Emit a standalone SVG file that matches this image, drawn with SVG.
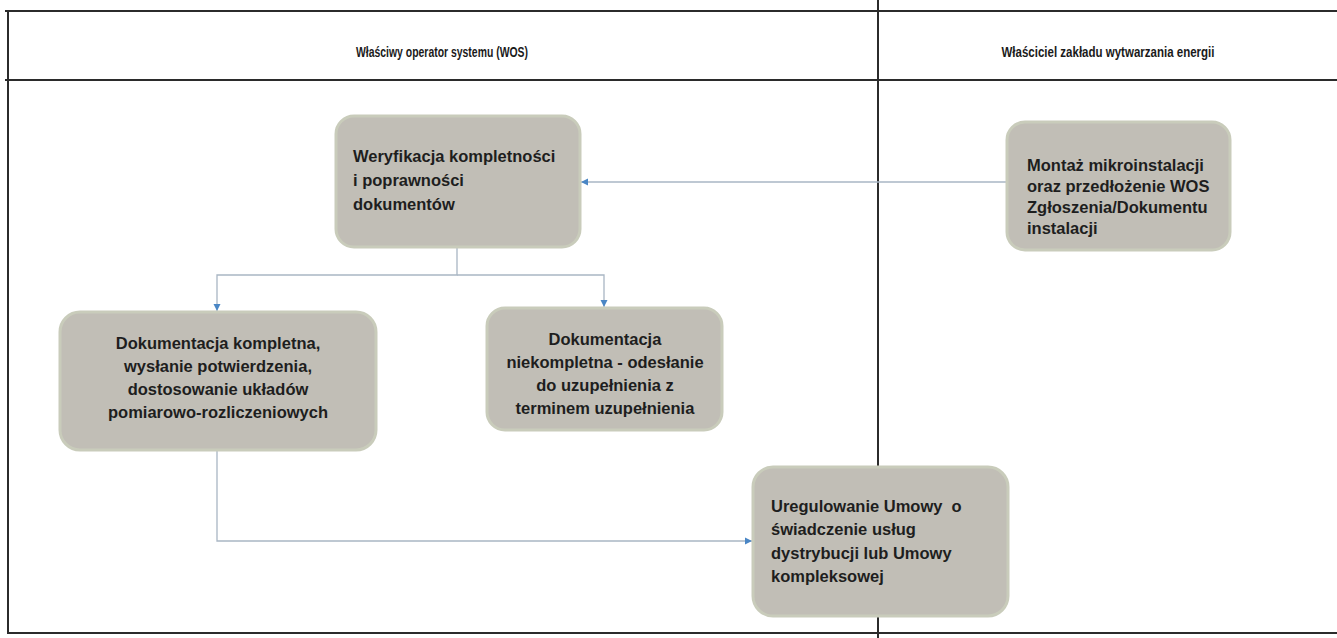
<svg xmlns="http://www.w3.org/2000/svg" width="1337" height="638" viewBox="0 0 1337 638">
<style>
.grid{stroke:#2b2b2b;stroke-width:2;fill:none}
.hdr{font-family:"Liberation Sans",Arial,sans-serif;font-weight:bold;font-size:15px;fill:#1a1a1a}
.box{fill:#c1beb6;stroke:#c9ccbb;stroke-width:3}
.txt{font-family:"Liberation Sans",Arial,sans-serif;font-weight:bold;font-size:16.5px;fill:#1e1e1e}
.c{text-anchor:middle}
.conn{stroke:#a9b6c4;stroke-width:1.3;fill:none}
</style>
<defs>
<marker id="ah" markerWidth="8" markerHeight="8" refX="7" refY="4" orient="auto" markerUnits="userSpaceOnUse">
<path d="M0,0.5 L7,4 L0,7.5 Z" fill="#4a86c5"/>
</marker>
</defs>
<rect width="1337" height="638" fill="#ffffff"/>
<g id="table">
<line class="grid" x1="5" y1="11" x2="1337" y2="11"/>
<line class="grid" x1="5" y1="80" x2="1337" y2="80"/>
<line class="grid" x1="8" y1="11" x2="8" y2="633"/>
<line class="grid" x1="7" y1="633" x2="1337" y2="633"/>
<line class="grid" x1="878" y1="0" x2="878" y2="638"/>
<text class="hdr c" x="442" y="57" textLength="172" lengthAdjust="spacingAndGlyphs">Właściwy operator systemu (WOS)</text>
<text class="hdr c" x="1108" y="57" textLength="213" lengthAdjust="spacingAndGlyphs">Właściciel zakładu wytwarzania energii</text>
</g>
<g id="connectors">
<line class="conn" x1="1007" y1="182" x2="581" y2="182" marker-end="url(#ah)"/>
<polyline class="conn" points="457,247 457,275 217,275 217,311" marker-end="url(#ah)"/>
<polyline class="conn" points="457,275 604,275 604,307" marker-end="url(#ah)"/>
<polyline class="conn" points="217,450 217,541 752,541" marker-end="url(#ah)"/>
</g>
<g id="n1">
<rect class="box" x="336" y="116" width="244" height="131" rx="18"/>
<text class="txt" x="353" y="162">Weryfikacja kompletności</text>
<text class="txt" x="353" y="186">i poprawności</text>
<text class="txt" x="353" y="210">dokumentów</text>
</g>
<g id="n2">
<rect class="box" x="1007" y="122" width="223" height="128" rx="18"/>
<text class="txt" x="1027" y="171">Montaż mikroinstalacji</text>
<text class="txt" x="1027" y="192">oraz przedłożenie WOS</text>
<text class="txt" x="1027" y="213">Zgłoszenia/Dokumentu</text>
<text class="txt" x="1027" y="234">instalacji</text>
</g>
<g id="n3">
<rect class="box" x="60" y="312" width="316" height="138" rx="20"/>
<text class="txt c" x="218" y="349">Dokumentacja kompletna,</text>
<text class="txt c" x="218" y="372">wysłanie potwierdzenia,</text>
<text class="txt c" x="218" y="395">dostosowanie układów</text>
<text class="txt c" x="218" y="418">pomiarowo-rozliczeniowych</text>
</g>
<g id="n4">
<rect class="box" x="487" y="308" width="235" height="122" rx="18"/>
<text class="txt c" x="605" y="345">Dokumentacja</text>
<text class="txt c" x="605" y="368">niekompletna - odesłanie</text>
<text class="txt c" x="605" y="391">do uzupełnienia z</text>
<text class="txt c" x="605" y="414">terminem uzupełnienia</text>
</g>
<g id="n5">
<rect class="box" x="753" y="467" width="255" height="149" rx="20"/>
<text class="txt" x="771" y="512" xml:space="preserve">Uregulowanie Umowy  o</text>
<text class="txt" x="771" y="535">świadczenie usług</text>
<text class="txt" x="771" y="559">dystrybucji lub Umowy</text>
<text class="txt" x="771" y="582">kompleksowej</text>
</g>
</svg>
